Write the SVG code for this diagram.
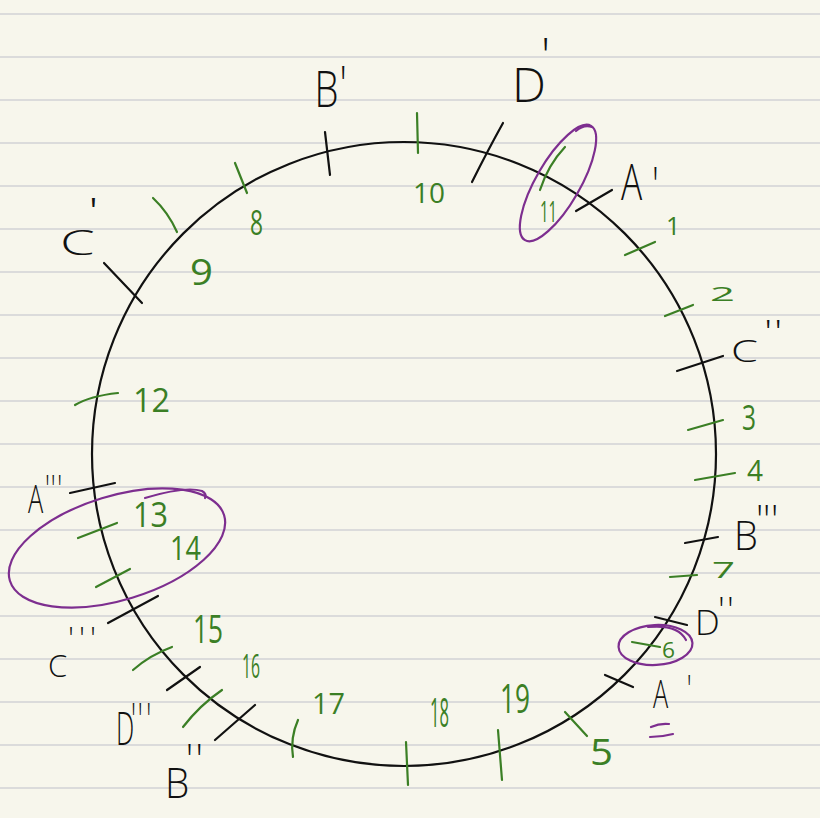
<svg xmlns="http://www.w3.org/2000/svg" width="820" height="818" viewBox="0 0 820 818">
<style>
.rule{stroke:#d2d2d6;stroke-width:1.5}
.k{stroke:#111;stroke-width:2.2;fill:none;stroke-linecap:round}
.g{stroke:#3b7f25;stroke-width:2.2;fill:none;stroke-linecap:round}
.p{stroke:#7d2e8f;stroke-width:2.2;fill:none;stroke-linecap:round}
text{font-family:"Open Sans","Liberation Sans",sans-serif;font-weight:300}
.tk{fill:#111}
.tg{fill:#3b7f25}
.tg text{font-weight:400}
</style>
<rect width="820" height="818" fill="#f7f6ec"/>
<g id="rules">
<line class="rule" x1="0" y1="14" x2="820" y2="14"/>
<line class="rule" x1="0" y1="57" x2="820" y2="57"/>
<line class="rule" x1="0" y1="100" x2="820" y2="100"/>
<line class="rule" x1="0" y1="143" x2="820" y2="143"/>
<line class="rule" x1="0" y1="186" x2="820" y2="186"/>
<line class="rule" x1="0" y1="229" x2="820" y2="229"/>
<line class="rule" x1="0" y1="272" x2="820" y2="272"/>
<line class="rule" x1="0" y1="315" x2="820" y2="315"/>
<line class="rule" x1="0" y1="358" x2="820" y2="358"/>
<line class="rule" x1="0" y1="401" x2="820" y2="401"/>
<line class="rule" x1="0" y1="444" x2="820" y2="444"/>
<line class="rule" x1="0" y1="487" x2="820" y2="487"/>
<line class="rule" x1="0" y1="530" x2="820" y2="530"/>
<line class="rule" x1="0" y1="573" x2="820" y2="573"/>
<line class="rule" x1="0" y1="616" x2="820" y2="616"/>
<line class="rule" x1="0" y1="659" x2="820" y2="659"/>
<line class="rule" x1="0" y1="702" x2="820" y2="702"/>
<line class="rule" x1="0" y1="745" x2="820" y2="745"/>
<line class="rule" x1="0" y1="788" x2="820" y2="788"/>
</g>
<g id="circle">
<circle cx="404" cy="454" r="312" class="k"/>
</g>
<g id="black-marks">
<path class="k" d="M325,132 L330,175"/>
<path class="k" d="M503,123 Q488,150 472,182"/>
<path class="k" d="M576,211 L612,190"/>
<path class="k" d="M677,371 L723,356"/>
<path class="k" d="M685,543 L718,537"/>
<path class="k" d="M655,617 L687,625"/>
<path class="k" d="M605,675 L633,687"/>
<path class="k" d="M70,493 L115,483"/>
<path class="k" d="M108,623 L158,596"/>
<path class="k" d="M167,690 L200,667"/>
<path class="k" d="M215,740 L255,705"/>
<path class="k" d="M104,263 L142,303"/>
</g>
<g id="green-marks">
<path class="g" d="M417,113 L418,153"/>
<path class="g" d="M565,147 Q548,165 540,190"/>
<path class="g" d="M625,255 L655,242"/>
<path class="g" d="M665,316 L693,305"/>
<path class="g" d="M688,430 L723,420"/>
<path class="g" d="M695,480 L735,473"/>
<path class="g" d="M670,577 L697,575"/>
<path class="g" d="M632,642 L660,647"/>
<path class="g" d="M565,712 L587,736"/>
<path class="g" d="M498,730 L502,780"/>
<path class="g" d="M406,742 L408,785"/>
<path class="g" d="M298,720 Q290,738 293,757"/>
<path class="g" d="M183,727 Q200,705 222,690"/>
<path class="g" d="M133,670 Q150,655 172,647"/>
<path class="g" d="M96,587 L130,569"/>
<path class="g" d="M78,538 L117,523"/>
<path class="g" d="M75,405 Q90,396 118,393"/>
<path class="g" d="M153,198 Q168,212 177,232"/>
<path class="g" d="M235,163 L247,193"/>
</g>
<g id="highlights">
<ellipse class="p" cx="558" cy="183" rx="66" ry="22" transform="rotate(-60 558 183)"/>
<path class="p" d="M576,131 Q584,124 592,127"/>
<ellipse class="p" cx="655.5" cy="645" rx="37" ry="20" transform="rotate(-3 655.5 645)"/>
<path class="p" d="M648,627 Q678,624 686,640"/>
<ellipse class="p" cx="117" cy="548" rx="112" ry="52" transform="rotate(-17 117 548)"/>
<path class="p" d="M145,498 Q185,486 202,491 Q207,494 205,498"/>
<path class="p" d="M651,727 Q660,723 669,724"/>
<path class="p" d="M650,737 Q662,737 673,734"/>
</g>
<g id="labels-black" class="tk">
<text id="lbl-B1" transform="translate(314.6,107) scale(0.78,1)" font-size="49" x="0 32" y="0 -5">B'</text>
<text id="lbl-D1" transform="translate(512,102)" font-size="48" x="0 29" y="0 -30">D'</text>
<text id="lbl-A1" transform="translate(621,200) scale(0.72,1)" font-size="49" x="0 43" y="0 3">A'</text>
<text id="lbl-C2" transform="translate(731,362) scale(1.4,1)" font-size="31" x="0 23.6 30.7" y="0 -20 -20">C''</text>
<text id="lbl-B3" transform="translate(734,550) scale(0.95,1)" font-size="40" x="0 23.2 30.5 39" y="0 -16 -16 -16">B'''</text>
<text id="lbl-D2" transform="translate(695,635)" font-size="35" x="0 23 32" y="0 -13 -13">D''</text>
<text id="lbl-A1b" transform="translate(653,708) scale(0.65,1)" font-size="39" x="0 52" y="0 -5">A'</text>
<text id="lbl-A3" transform="translate(28,513) scale(0.65,1)" font-size="39" x="0 26 35 45" y="0 -10 -10 -10">A'''</text>
<text id="lbl-C3" transform="translate(48,677)" font-size="31" x="0 20 31 42" y="0 -28 -28 -28">C'''</text>
<text id="lbl-D3" transform="translate(116,745) scale(0.56,1)" font-size="46" x="0 27 39 54" y="0 -9 -9 -9">D'''</text>
<text id="lbl-B2" transform="translate(165,798) scale(0.9,1)" font-size="43" x="0 23 34" y="0 -24 -24">B''</text>
<text id="lbl-C1" transform="translate(60,255) scale(1.6,1)" font-size="35" x="0 17.5" y="0 -32">C'</text>
</g>
<g id="labels-green" class="tg">
<text x="413" y="203" font-size="28" textLength="32" lengthAdjust="spacingAndGlyphs">10</text>
<text x="540" y="222" font-size="30" textLength="17" lengthAdjust="spacingAndGlyphs">11</text>
<text x="666" y="235" font-size="25">1</text>
<text x="710" y="301" font-size="20" textLength="25" lengthAdjust="spacingAndGlyphs">2</text>
<text x="742" y="430" font-size="35" textLength="14" lengthAdjust="spacingAndGlyphs">3</text>
<text x="747" y="481" font-size="30" textLength="16" lengthAdjust="spacingAndGlyphs">4</text>
<text x="712" y="578" font-size="22" textLength="23" lengthAdjust="spacingAndGlyphs">7</text>
<text x="662" y="658" font-size="21" textLength="13" lengthAdjust="spacingAndGlyphs">6</text>
<text x="590" y="765" font-size="36" textLength="23" lengthAdjust="spacingAndGlyphs">5</text>
<text x="500" y="713" font-size="40" textLength="30" lengthAdjust="spacingAndGlyphs">19</text>
<text x="430" y="727" font-size="40" textLength="19" lengthAdjust="spacingAndGlyphs">18</text>
<text x="312" y="714" font-size="30" textLength="33" lengthAdjust="spacingAndGlyphs">17</text>
<text x="242" y="678" font-size="32" textLength="18" lengthAdjust="spacingAndGlyphs">16</text>
<text x="193" y="643" font-size="38" textLength="30" lengthAdjust="spacingAndGlyphs">15</text>
<text x="170" y="560" font-size="33" textLength="31" lengthAdjust="spacingAndGlyphs">14</text>
<text x="133" y="527" font-size="35" textLength="35" lengthAdjust="spacingAndGlyphs">13</text>
<text x="133" y="412" font-size="33" textLength="37" lengthAdjust="spacingAndGlyphs">12</text>
<text x="190" y="285" font-size="36" textLength="23" lengthAdjust="spacingAndGlyphs">9</text>
<text x="250" y="235" font-size="35" textLength="13" lengthAdjust="spacingAndGlyphs">8</text>
</g>
</svg>
